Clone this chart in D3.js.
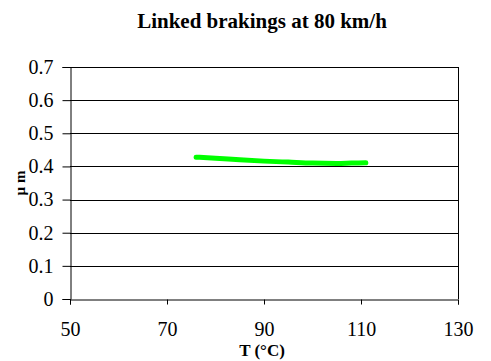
<!DOCTYPE html>
<html>
<head>
<meta charset="utf-8">
<script src="https://cdn.jsdelivr.net/npm/d3@7"></script>
<style>
  body { margin: 0; background: #fff; }
</style>
</head>
<body>
<script>
// temperature (°C) and friction coefficient
const temps = [76, 80, 85, 90, 95, 100, 105, 108, 111];
const mu    = [0.428, 0.425, 0.420, 0.416, 0.413, 0.410, 0.409, 0.410, 0.411];
const xTicks = [50, 70, 90, 110, 130];
const yTicks = [0, 0.1, 0.2, 0.3, 0.4, 0.5, 0.6, 0.7];

const width = 491, height = 361;
const margin = {top: 67, right: 33, bottom: 62, left: 70};
const serif = "'Liberation Serif', 'Times New Roman', serif";

const data = temps.map((t, i) => [t, mu[i]]);

const svg = d3.select("body").append("svg")
    .attr("width", width)
    .attr("height", height)
    .attr("font-family", serif);

const x = d3.scaleLinear()
    .domain([50, 130])
    .range([margin.left, width - margin.right]);

const y = d3.scaleLinear()
    .domain([0, 0.7])
    .range([height - margin.bottom, margin.top]);

// gridlines
svg.append("g")
  .selectAll("line")
  .data(yTicks.slice(1))
  .join("line")
    .attr("x1", x(50)).attr("x2", x(130))
    .attr("y1", d => Math.round(y(d)) + 0.5)
    .attr("y2", d => Math.round(y(d)) + 0.5)
    .attr("stroke", "#000")
    .attr("stroke-width", 1);

// right border
svg.append("line")
    .attr("x1", Math.round(x(130)) + 0.5).attr("x2", Math.round(x(130)) + 0.5)
    .attr("y1", y(0.7)).attr("y2", y(0))
    .attr("stroke", "#000");

// x axis
svg.append("g")
    .attr("transform", `translate(0,${Math.round(y(0)) + 0.5})`)
    .call(d3.axisBottom(x).tickValues(xTicks).tickSize(5).tickPadding(17).tickFormat(d3.format("d")))
    .attr("font-family", serif)
    .attr("font-size", 20)
    .call(g => g.selectAll("path, line").attr("stroke", "#000"))
    .call(g => g.selectAll("text").attr("fill", "#000"));

// y axis
svg.append("g")
    .attr("transform", `translate(${Math.round(x(50)) + 0.5},0)`)
    .call(d3.axisLeft(y).tickValues(yTicks).tickSize(8).tickPadding(9)
      .tickFormat(d => d === 0 ? "0" : d3.format(".1f")(d)))
    .attr("font-family", serif)
    .attr("font-size", 20)
    .call(g => g.selectAll("path, line").attr("stroke", "#000"))
    .call(g => g.selectAll("text").attr("fill", "#000"));

// series
svg.append("path")
    .datum(data)
    .attr("fill", "none")
    .attr("stroke", "#00ff00")
    .attr("stroke-width", 5)
    .attr("stroke-linecap", "round")
    .attr("stroke-linejoin", "round")
    .attr("d", d3.line().curve(d3.curveMonotoneX).x(d => x(d[0])).y(d => y(d[1])));

// title
svg.append("text")
    .attr("x", 262).attr("y", 28)
    .attr("text-anchor", "middle")
    .attr("font-size", 21)
    .attr("font-weight", "bold")
    .text("Linked brakings at 80 km/h");

// axis titles
svg.append("text")
    .attr("x", 262).attr("y", 356)
    .attr("text-anchor", "middle")
    .attr("font-size", 17)
    .attr("font-weight", "bold")
    .text("T (°C)");

svg.append("text")
    .attr("transform", "translate(25,183) rotate(-90)")
    .attr("text-anchor", "middle")
    .attr("font-size", 15)
    .attr("font-weight", "bold")
    .text("µ m");
</script>
</body>
</html>
